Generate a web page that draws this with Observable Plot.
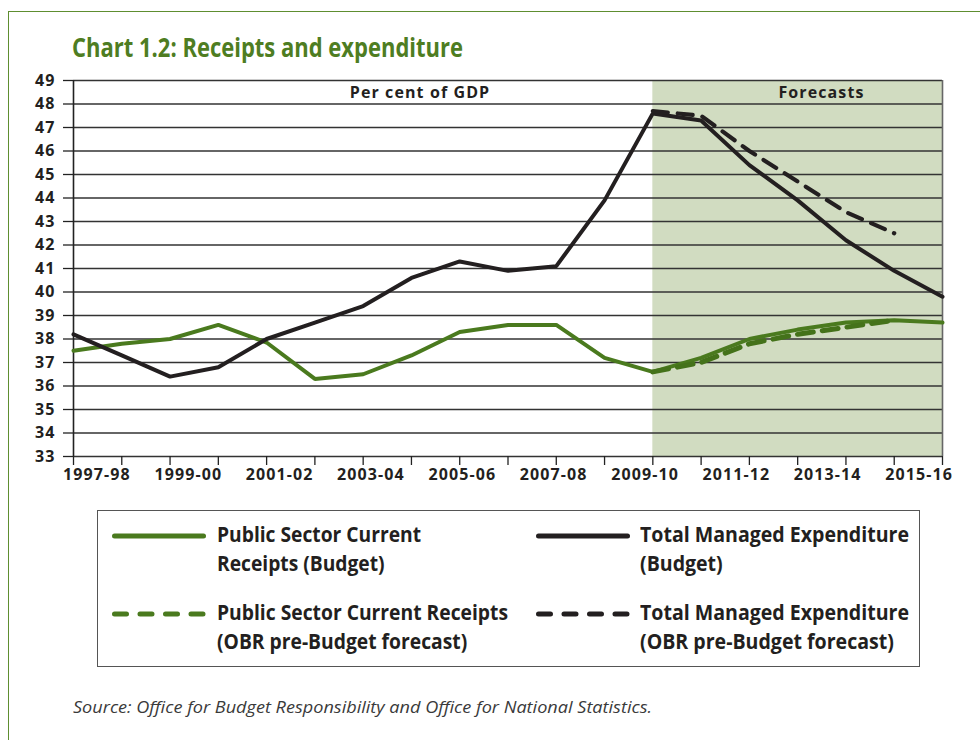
<!DOCTYPE html>
<html>
<head>
<meta charset="utf-8">
<script src="https://cdn.jsdelivr.net/npm/d3@7"></script>
<script src="https://cdn.jsdelivr.net/npm/@observablehq/plot@0.6"></script>
<style>
  html, body { margin: 0; padding: 0; background: #fff; }
  #page { position: relative; width: 980px; height: 740px; overflow: hidden; background: #fff; }
  #frame { position: absolute; left: 8px; top: 11px; width: 1000px; height: 800px;
           border-left: 1.5px solid #5e8e30; border-top: 1.5px solid #5e8e30; }
  .fit { display: inline-block; transform-origin: left top; white-space: nowrap; }
  #title { position: absolute; left: 72px; top: 33px; font-family: "Open Sans", sans-serif;
           font-weight: bold; font-size: 27px; line-height: 27px; color: #4e7d22; }
  #chart { position: absolute; left: 0; top: 60px; }
  #legend { position: absolute; left: 97px; top: 510px; width: 821px; height: 155px; border: 1.5px solid #555; }
  .item { position: absolute; font-family: "Open Sans", sans-serif; font-weight: bold;
          font-size: 22px; line-height: 28.5px; color: #231f20; }
  .swatch { position: absolute; }
  #source { position: absolute; left: 73px; top: 698px; font-family: "Open Sans", sans-serif; font-style: italic;
            font-weight: 400; font-size: 17px; line-height: 17px; color: #3a3a3a; }
</style>
</head>
<body>
<div id="page">
  <div id="frame"></div>
  <div id="title" class="fit">Chart 1.2: Receipts and expenditure</div>
  <div id="chart"></div>
  <div id="legend"></div>
  <div id="source" class="fit">Source: Office for Budget Responsibility and Office for National Statistics.</div>
</div>
<script>
// ---- data ----
const years = ["1997-98","1998-99","1999-00","2000-01","2001-02","2002-03","2003-04","2004-05","2005-06","2006-07",
               "2007-08","2008-09","2009-10","2010-11","2011-12","2012-13","2013-14","2014-15","2015-16"];
const receiptsBudget = [37.5, 37.8, 38.0, 38.6, 37.85, 36.3, 36.5, 37.3, 38.3, 38.6, 38.6, 37.2, 36.6, 37.2, 38.0, 38.4, 38.7, 38.8, 38.7];
const expenditureBudget = [38.2, 37.3, 36.4, 36.8, 38.0, 38.7, 39.4, 40.6, 41.3, 40.9, 41.1, 43.9, 47.6, 47.3, 45.4, 43.9, 42.2, 40.9, 39.8];
const obrYears = ["2009-10","2010-11","2011-12","2012-13","2013-14","2014-15"];
const receiptsOBR = [36.6, 37.0, 37.8, 38.2, 38.5, 38.8];
const expenditureOBR = [47.7, 47.5, 46.0, 44.7, 43.4, 42.5];
const forecastStart = "2009-10";
const yTicks = [33,34,35,36,37,38,39,40,41,42,43,44,45,46,47,48,49];
const labelYears = ["1997-98","1999-00","2001-02","2003-04","2005-06","2007-08","2009-10","2011-12","2013-14","2015-16"];
const seriesNames = ["Public Sector Current\nReceipts (Budget)", "Total Managed Expenditure\n(Budget)",
                     "Public Sector Current Receipts\n(OBR pre-Budget forecast)", "Total Managed Expenditure\n(OBR pre-Budget forecast)"];
const annotations = ["Per cent of GDP", "Forecasts"];

const GREEN = "#4a7a1e", BLACK = "#231f20";

const idx = y => years.indexOf(y);
const budget = years.map((y, i) => ({x: i, pr: receiptsBudget[i], tme: expenditureBudget[i]}));
const obr = obrYears.map((y, i) => ({x: idx(y), pr: receiptsOBR[i], tme: expenditureOBR[i]}));
const shade = [{x1: idx(forecastStart), x2: years.length - 1, y1: yTicks[0], y2: yTicks[yTicks.length - 1]}];

// category labels are spread evenly across a label band slightly wider than the axis (spreadsheet-style)
const labelPad = 0.46;
const labelSlot = (years.length - 1 + 2 * labelPad) / labelYears.length;
const labelX = (d, k) => -labelPad + (k + 0.5) * labelSlot;

const chart = Plot.plot({
  width: 980, height: 430,
  marginTop: 20, marginBottom: 34, marginLeft: 73, marginRight: 38,
  style: "font-family: 'Open Sans', sans-serif; font-weight: bold; font-size: 16px; letter-spacing: 1.1px; color: #231f20; background: transparent; overflow: visible;",
  x: {type: "linear", domain: [0, years.length - 1]},
  y: {domain: [yTicks[0], yTicks[yTicks.length - 1]]},
  marks: [
    Plot.rect(shade, {x1: "x1", x2: "x2", y1: "y1", y2: "y2", fill: "#d1dcc1"}),
    Plot.gridY(yTicks, {stroke: "#333", strokeOpacity: 1, strokeWidth: 1.4}),
    Plot.ruleX([0], {stroke: "#222", strokeWidth: 1.6}),
    Plot.ruleX([years.length - 1], {stroke: "#666", strokeWidth: 1.6}),
    Plot.axisY({ticks: yTicks, tickSize: 10, tickPadding: 8, stroke: "#222", strokeWidth: 1.3, label: null}),
    Plot.axisX({ticks: d3.range(years.length), tickSize: 9, tickFormat: () => "", stroke: "#222", strokeWidth: 1.3, label: null}),
    Plot.text(labelYears, {x: labelX, y: () => yTicks[0], text: d => d, lineAnchor: "top", dy: 12,
                           fontSize: 16, fontWeight: "bold", fill: BLACK, clip: false}),
    Plot.text([annotations[0]], {frameAnchor: "top", dx: -88, dy: 6, fontSize: 16, fontWeight: "bold", fill: BLACK}),
    Plot.text([annotations[1]], {frameAnchor: "top-right", dx: -78, dy: 6, fontSize: 16, fontWeight: "bold", fill: BLACK}),
    Plot.line(budget, {x: "x", y: "pr", stroke: GREEN, strokeWidth: 4, strokeLinejoin: "miter"}),
    Plot.line(budget, {x: "x", y: "tme", stroke: BLACK, strokeWidth: 4, strokeLinejoin: "miter"}),
    Plot.line(obr, {x: "x", y: "tme", stroke: BLACK, strokeWidth: 4.2, strokeDasharray: "15 10"}),
    Plot.line(obr, {x: "x", y: "pr", stroke: "#44721a", strokeWidth: 5, strokeDasharray: "16 9"})
  ]
});
document.getElementById("chart").appendChild(chart);

// horizontally condense a text block to the reference width (mimics a condensed face)
function fit(el, target) {
  const w = el.getBoundingClientRect().width;
  if (w > 0) el.style.transform = `scaleX(${target / w})`;
}

// ---- legend ----
const legend = document.getElementById("legend");
const specs = [
  {name: seriesNames[0], color: GREEN, dash: false, lx: 12, tx: 118.5, ty: 8.4, w: 204},
  {name: seriesNames[1], color: BLACK, dash: false, lx: 436, tx: 541.5, ty: 8.4, w: 269},
  {name: seriesNames[2], color: GREEN, dash: true, lx: 12, tx: 118.5, ty: 86.4, w: 291},
  {name: seriesNames[3], color: BLACK, dash: true, lx: 436, tx: 541.5, ty: 86.4, w: 269}
];
specs.forEach(s => {
  const sw = document.createElementNS("http://www.w3.org/2000/svg", "svg");
  sw.setAttribute("class", "swatch");
  sw.setAttribute("width", 98); sw.setAttribute("height", 10);
  sw.style.left = s.lx + "px"; sw.style.top = (s.ty + 11.5) + "px";
  const ln = document.createElementNS("http://www.w3.org/2000/svg", "line");
  ln.setAttribute("x1", 4.5); ln.setAttribute("x2", 93.5); ln.setAttribute("y1", 5); ln.setAttribute("y2", 5);
  ln.setAttribute("stroke", s.color); ln.setAttribute("stroke-width", 5);
  ln.setAttribute("stroke-linecap", "round");
  if (s.dash) ln.setAttribute("stroke-dasharray", "12 13.5");
  sw.appendChild(ln);
  legend.appendChild(sw);
  const t = document.createElement("div");
  t.className = "item fit";
  t.style.left = s.tx + "px"; t.style.top = s.ty + "px";
  t.innerHTML = s.name.split("\n").join("<br>");
  legend.appendChild(t);
  fit(t, s.w);
});
fit(document.getElementById("title"), 391);
fit(document.getElementById("source"), 579);
</script>
</body>
</html>
